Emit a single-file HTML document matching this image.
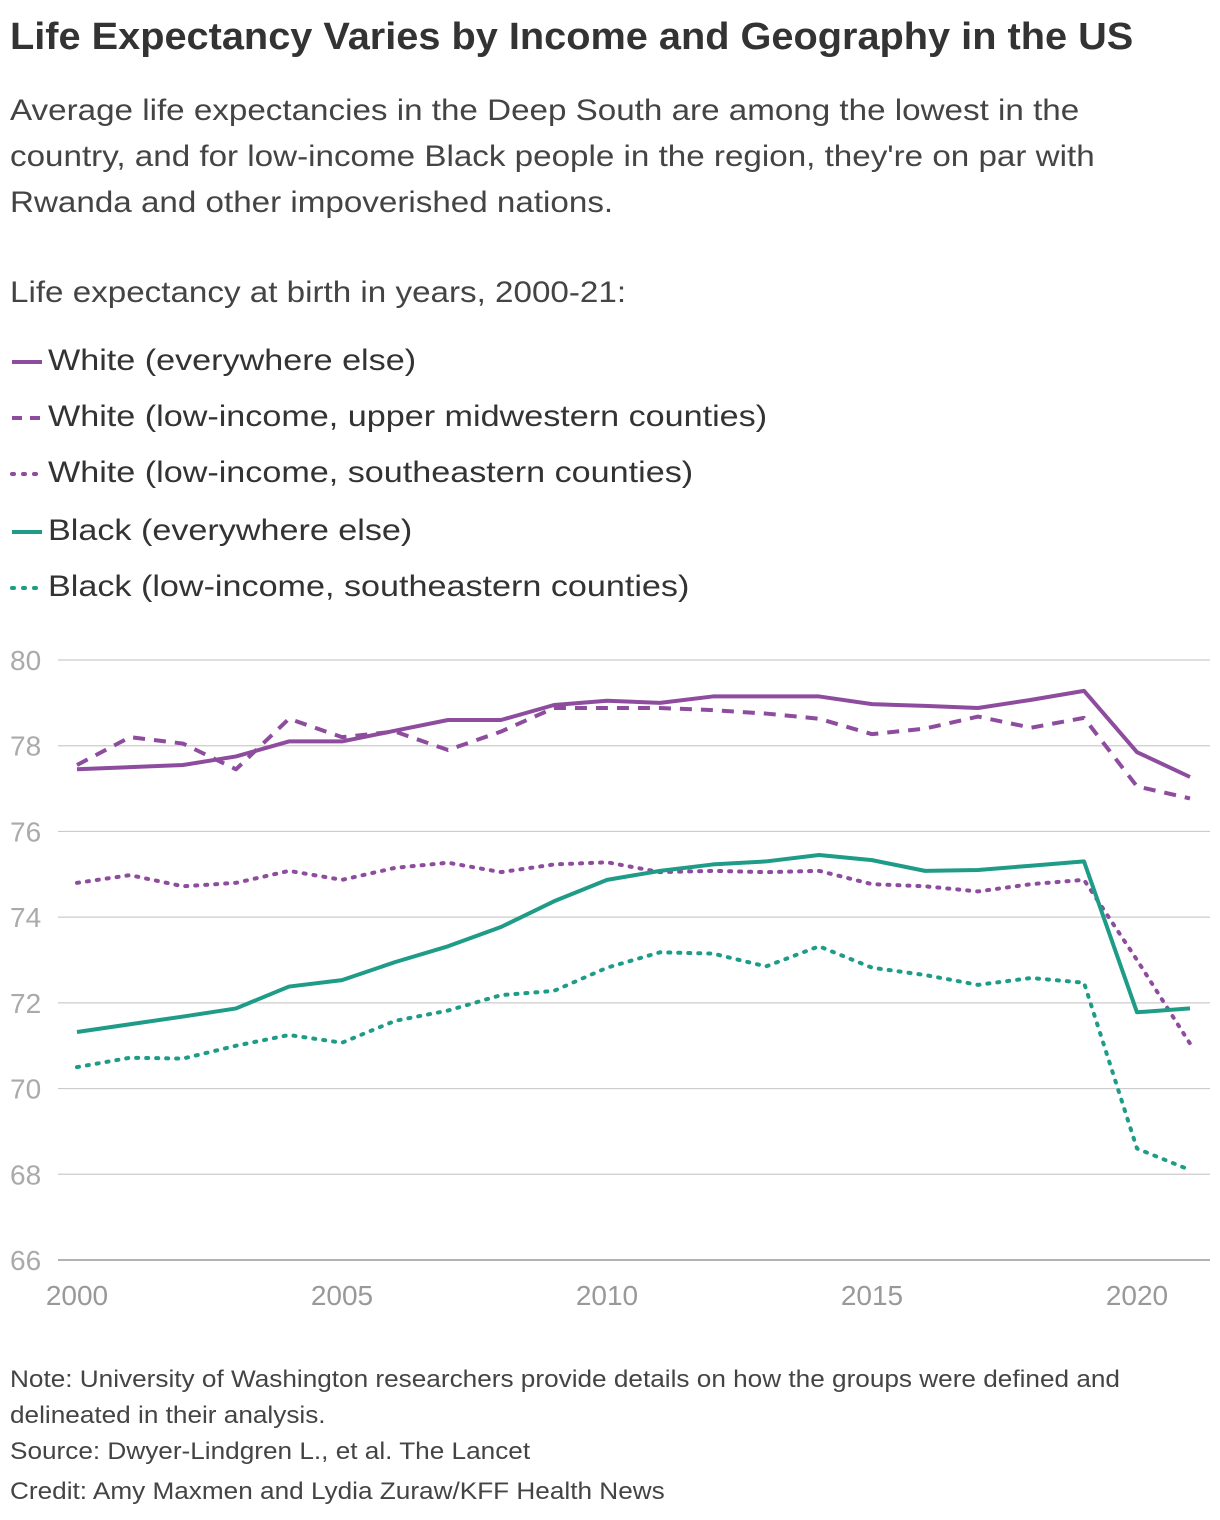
<!DOCTYPE html>
<html><head><meta charset="utf-8"><style>
body{margin:0;width:1220px;height:1520px;background:#fff;font-family:"Liberation Sans",sans-serif;color:#333;position:relative;overflow:hidden}
.t{position:absolute;left:10px;white-space:nowrap;transform-origin:0 0}
</style></head><body>
<div class="t" style="top:16px;font-size:38px;font-weight:bold;color:#333;transform:scaleX(1.045)">Life Expectancy Varies by Income and Geography in the US</div>
<div class="t" style="top:88px;font-size:30px;line-height:46px;color:#444;transform:scaleX(1.106)">Average life expectancies in the Deep South are among the lowest in the<br>country, and for low-income Black people in the region, they're on par with<br>Rwanda and other impoverished nations.</div>
<div class="t" style="top:276px;font-size:30px;color:#444;transform:scaleX(1.106)">Life expectancy at birth in years, 2000-21:</div>
<div id="legend"></div>
<svg id="chart" width="1220" height="1340" style="position:absolute;left:0;top:0"></svg>
<div class="t" style="top:1362px;font-size:24px;line-height:36px;color:#444;transform:scaleX(1.09)">Note: University of Washington researchers provide details on how the groups were defined and<br>delineated in their analysis.</div>
<div class="t" style="top:1438px;font-size:24px;color:#444;transform:scaleX(1.09)">Source: Dwyer-Lindgren L., et al. The Lancet</div>
<div class="t" style="top:1478px;font-size:24px;color:#444;transform:scaleX(1.09)">Credit: Amy Maxmen and Lydia Zuraw/KFF Health News</div>
<script>
const years=[2000,2001,2002,2003,2004,2005,2006,2007,2008,2009,2010,2011,2012,2013,2014,2015,2016,2017,2018,2019,2020,2021];
const whiteElse=[77.45,77.5,77.55,77.75,78.1,78.1,78.35,78.6,78.6,78.95,79.05,79.0,79.15,79.15,79.15,78.97,78.93,78.88,79.07,79.28,77.85,77.27];
const whiteMidwest=[77.55,78.2,78.05,77.45,78.63,78.2,78.33,77.9,78.33,78.88,78.88,78.88,78.83,78.75,78.63,78.27,78.4,78.68,78.42,78.65,77.05,76.77];
const whiteSE=[74.8,74.98,74.72,74.8,75.08,74.87,75.15,75.27,75.05,75.23,75.28,75.05,75.08,75.05,75.08,74.77,74.72,74.6,74.77,74.87,73.0,71.05];
const blackElse=[71.32,71.5,71.68,71.87,72.38,72.53,72.95,73.32,73.77,74.37,74.87,75.08,75.23,75.3,75.45,75.33,75.08,75.1,75.2,75.3,71.78,71.87];
const blackSE=[70.5,70.72,70.7,71.0,71.25,71.07,71.58,71.82,72.18,72.28,72.82,73.18,73.15,72.85,73.32,72.82,72.65,72.42,72.58,72.47,68.6,68.1];
const yTicks=[66,68,70,72,74,76,78,80];
const xTicks=[2000,2005,2010,2015,2020];
const seriesNames=["White (everywhere else)","White (low-income, upper midwestern counties)","White (low-income, southeastern counties)","Black (everywhere else)","Black (low-income, southeastern counties)"];
const PUR="#8e4c9e",TEAL="#1e9c88";
const styles=[[PUR,""],[PUR,"12 9"],[PUR,"2 8"],[TEAL,""],[TEAL,"2 8"]];
const allSeries=[whiteElse,whiteMidwest,whiteSE,blackElse,blackSE];
const X=y=>77+(y-2000)*53;
const Y=v=>660+(80-v)*(600/14);
const NS="http://www.w3.org/2000/svg";
const svg=document.getElementById('chart');
function mk(tag,attrs){const e=document.createElementNS(NS,tag);for(const k in attrs)e.setAttribute(k,attrs[k]);return e;}
yTicks.forEach(t=>{
  const l=mk('line',{x1:58,x2:1210,y1:Y(t),y2:Y(t),stroke:t===66?'#999':'#ccc','stroke-width':t===66?1.5:1.2});
  
  
  svg.appendChild(l);
  const tx=mk('text',{x:10,y:Y(t)+10,'font-size':28,fill:'#aaa','font-family':'Liberation Sans, sans-serif'});
  tx.textContent=t;
  
  
  svg.appendChild(tx);
});
xTicks.forEach(t=>{
  const tx=mk('text',{x:X(t),y:1305,'font-size':28,fill:'#999','text-anchor':'middle','font-family':'Liberation Sans, sans-serif'});
  tx.textContent=t;
  
  
  svg.appendChild(tx);
});
allSeries.forEach((s,i)=>{
  const d=s.map((v,j)=>(j?'L':'M')+X(years[j])+','+Y(v)).join(' ');
  const p=mk('path',{d:d,fill:'none',stroke:styles[i][0],'stroke-width':4,'stroke-linejoin':'round','stroke-linecap':styles[i][1]==="2 8"?'round':'butt'});
  if(styles[i][1])p.setAttribute('stroke-dasharray',styles[i][1]);
  
  
  svg.appendChild(p);
});
const lg=document.getElementById('legend');
seriesNames.forEach((n,i)=>{
  const cy=[362,418,474,532,588][i];
  const row=document.createElement('div');
  
  
  row.style.cssText='position:absolute;left:10px;top:'+(cy-18)+'px;height:36px;white-space:nowrap';
  const dash=styles[i][1];
  row.innerHTML='<svg width="34" height="36" style="position:absolute;left:0;top:0"><line x1="2" x2="32" y1="18" y2="18" stroke="'+styles[i][0]+'" stroke-width="4" '+(dash?'stroke-dasharray="'+(dash==="2 8"?"2 9":"10 8")+'" stroke-linecap="'+(dash==="2 8"?"round":"butt")+'"':'')+'/></svg><span style="position:absolute;left:38px;top:0px;font-size:30px;color:#333;white-space:nowrap;transform-origin:0 0;transform:scaleX(1.138)">'+n+'</span>';
  lg.appendChild(row);
});
</script>
</body></html>
